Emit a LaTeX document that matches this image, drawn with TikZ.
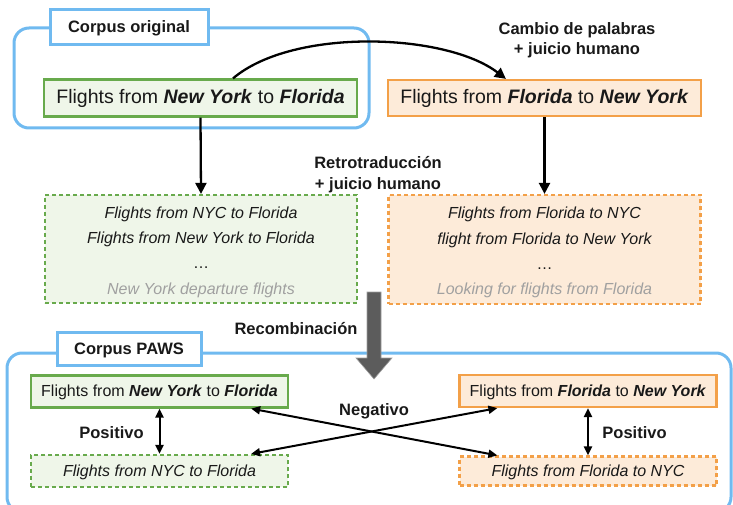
\documentclass[tikz,border=0pt]{standalone}
\usepackage{fontspec}
\setmainfont{Liberation Sans}
\usetikzlibrary{arrows.meta,calc}

\definecolor{groupblue}{RGB}{112,186,240}
\definecolor{grnline}{RGB}{104,170,76}
\definecolor{grnfill}{RGB}{239,246,233}
\definecolor{orgline}{RGB}{243,160,72}
\definecolor{orgfill}{RGB}{253,235,217}
\definecolor{paletext}{RGB}{160,160,160}
\definecolor{inktext}{RGB}{25,25,25}
\definecolor{bigarrow}{RGB}{92,92,92}

\newcommand{\bi}[1]{\textbf{\textit{#1}}}
\newcommand{\pale}[1]{{\color{paletext}#1}}
\newcommand{\topstrut}{\rule{0pt}{17.7pt}}

\tikzset{
  groupbox/.style={draw=groupblue, line width=3pt, rounded corners=15pt},
  grouptag/.style={draw=groupblue, line width=3pt, fill=white, text=inktext,
    inner sep=0pt, font=\fontsize{16.5}{19}\selectfont\bfseries},
  boldlabel/.style={align=center, text=inktext, inner sep=0pt,
    font=\fontsize{16.5}{21}\selectfont\bfseries},
  bigsrc/.style={draw=grnline, fill=grnfill, line width=2.2pt, inner sep=0pt,
    text=inktext, minimum width=313pt, minimum height=37pt,
    font=\fontsize{19.5}{22}\selectfont},
  bigswap/.style={bigsrc, draw=orgline, fill=orgfill},
  paralist/.style={draw=grnline, fill=grnfill, line width=2.2pt, dashed,
    dash pattern=on 4pt off 3pt, inner sep=0pt, align=center, text=inktext,
    minimum width=312pt, minimum height=108pt,
    font=\fontsize{16}{25.3}\selectfont\itshape},
  swaplist/.style={paralist, draw=orgline, fill=orgfill},
  smallsrc/.style={draw=grnline, fill=grnfill, line width=2.2pt, inner sep=0pt,
    text=inktext, minimum width=257pt, minimum height=32pt,
    font=\fontsize{16}{19}\selectfont},
  smallswap/.style={smallsrc, draw=orgline, fill=orgfill},
  smallpara/.style={smallsrc, dashed, dash pattern=on 4pt off 3pt,
    font=\fontsize{16}{19}\selectfont\itshape},
  smallswappara/.style={smallpara, draw=orgline, fill=orgfill},
  flow/.style={draw=black, line width=2.3pt,
    -{Triangle[length=11pt,width=11pt]}},
  pairlink/.style={draw=black, line width=2pt,
    {Triangle[length=9pt,width=8pt]}-{Triangle[length=9pt,width=8pt]}},
}

\begin{document}
\begin{tikzpicture}[x=1pt, y=-1pt]
  \useasboundingbox (0,0) rectangle (733,505);

  % ---- upper group: original corpus ----
  \draw[groupbox] (14,28) rectangle (369,128);
  \node[grouptag, minimum width=158pt, minimum height=35pt, text depth=1pt] (origtag) at (129,27.5) {Corpus original};

  \node[bigsrc]  (orig) at (200.5,98) {Flights from \bi{New York} to \bi{Florida}};
  \node[bigswap, minimum height=36pt] (swap) at (544.5,98) {Flights from \bi{Florida} to \bi{New York}};

  \node[boldlabel, font=\fontsize{16.5}{20}\selectfont\bfseries] (swaplbl) at (577,40.5) {Cambio de palabras\\+ juicio humano};
  \node[boldlabel] (btlbl) at (378,174.5) {Retrotraducción\\+ juicio humano};

  \coordinate (swapstart) at ($(orig.north)+(32.5,0)$);
  \coordinate (swapend) at ($(swap.north west)+(119,0)$);
  \draw[flow] (swapstart) .. controls ($(swapstart)+(60,-51)$) and ($(swapend)+(-60,-46)$) .. (swapend);

  % ---- generated paraphrases ----
  \node[paralist] (btlist) at (201,249)
    {\topstrut Flights from NYC to Florida\\Flights from New York to Florida\\\upshape\dots\\\pale{New York departure flights}};
  \node[swaplist, minimum height=109pt] (swlist) at (544.5,249.5)
    {\topstrut Flights from Florida to NYC\\flight from Florida to New York\\\upshape\dots\\\pale{Looking for flights from Florida}};

  \draw[flow] (orig.south) -- (btlist.north);
  \draw[flow] (swap.south) -- (swlist.north);

  \node[boldlabel] (recomb) at (296,329) {Recombinación};

  % ---- lower group: PAWS corpus ----
  \draw[groupbox] (7,353) rectangle (731,512);
  \node[grouptag, minimum width=144pt, minimum height=33pt, text depth=1pt] (pawstag) at (129,349) {Corpus PAWS};

  % wide recombination arrow
  \filldraw[fill=bigarrow, draw=gray!75, line width=0.6pt]
    (367,292) -- (381,292) -- (381,358) -- (392,358) -- (374,379)
    -- (356,358) -- (367,358) -- cycle;

  \node[smallsrc, text depth=1.5pt]  (pa) at (159.5,391.5) {Flights from \bi{New York} to \bi{Florida}};
  \node[smallpara, text depth=1.5pt] (pb) at (159.5,471) {Flights from NYC to Florida};
  \node[smallswap, text depth=1.5pt] (pc) at (588,391) {Flights from \bi{Florida} to \bi{New York}};
  \node[smallswappara, minimum height=29pt, text depth=1.5pt] (pd) at (588,471) {Flights from Florida to NYC};

  \draw[pairlink] (pa.south) -- (pb.north);
  \draw[pairlink] (pc.south) -- (pd.north);
  \node[boldlabel] (posl) at (111.5,433) {Positivo};
  \node[boldlabel] (posr) at (634.5,433) {Positivo};

  \coordinate (na) at ($(pa.south east)+(-38,0)$);
  \coordinate (nd) at ($(pd.north west)+(39,0)$);
  \coordinate (nb) at ($(pb.north east)+(-38,0)$);
  \coordinate (nc) at ($(pc.south west)+(39,0)$);
  \draw[pairlink] (na) -- (nd);
  \draw[pairlink] (nb) -- (nc);
  \node[boldlabel] (negl) at (374,411) {Negativo};
\end{tikzpicture}
\end{document}
